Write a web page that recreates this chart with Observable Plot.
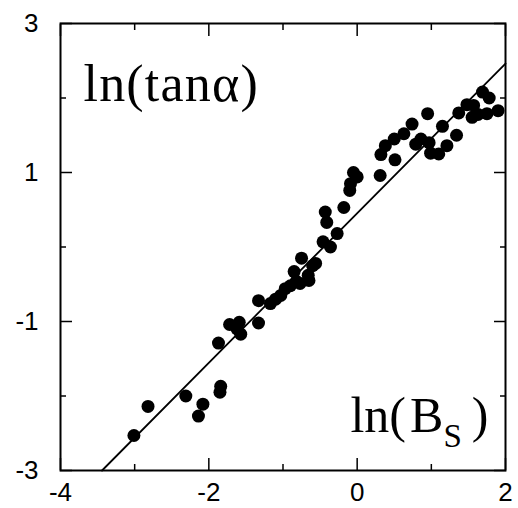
<!DOCTYPE html>
<html>
<head>
<meta charset="utf-8">
<script src="https://cdn.jsdelivr.net/npm/d3@7"></script>
<script src="https://cdn.jsdelivr.net/npm/@observablehq/plot@0.6"></script>
<style>
  html, body { margin: 0; padding: 0; background: white; }
</style>
</head>
<body>
<div id="chart"></div>
<script>
// Data
const xs = [-3.01, -2.82, -2.31, -2.08, -2.14, -1.84, -1.85, -1.87, -1.72, -1.59,
            -1.57, -1.62, -1.33, -1.33, -1.17, -1.10, -1.03, -0.97, -0.90, -0.82,
            -0.77, -0.85, -0.75, -0.66, -0.60, -0.56, -0.65, -0.46, -0.36, -0.27,
            -0.43, -0.41, -0.18, -0.10, -0.09, -0.05, 0.00, 0.31, 0.32, 0.38,
            0.51, 0.50, 0.63, 0.74, 0.95, 0.79, 0.86, 0.97, 0.99, 1.10,
            1.15, 1.21, 1.34, 1.37, 1.48, 1.57, 1.55, 1.69, 1.78, 1.75,
            1.90, 1.63];
const ys = [-2.53, -2.14, -2.00, -2.11, -2.27, -1.87, -1.95, -1.29, -1.04, -1.01,
            -1.17, -1.10, -1.02, -0.72, -0.76, -0.70, -0.65, -0.56, -0.52, -0.46,
            -0.49, -0.33, -0.15, -0.38, -0.25, -0.22, -0.45, 0.07, 0.00, 0.18,
            0.47, 0.33, 0.53, 0.76, 0.85, 1.00, 0.94, 0.96, 1.24, 1.36,
            1.17, 1.45, 1.52, 1.65, 1.79, 1.38, 1.45, 1.40, 1.26, 1.25,
            1.62, 1.36, 1.50, 1.80, 1.91, 1.90, 1.74, 2.08, 2.00, 1.79,
            1.83, 1.78];
// fitted straight line end points
const fitX = [-3.44, 2.0];
const fitY = [-3.0, 2.46];
// tick values
const majorX = [-4, -2, 0, 2];
const minorX = [-3, -1, 1];
const majorY = [-3, -1, 1, 3];
const minorY = [-2, 0, 2];
const topLabel = "ln(tanα)";
const bottomLabel = "ln(B_S)";

const points = xs.map((x, i) => ({x, y: ys[i]}));
const fit = fitX.map((x, i) => ({x, y: fitY[i]}));

const tickOnly = {fill: "none", label: null, strokeWidth: 1.5};
const fmt = d => String(d);

const chart = Plot.plot({
  width: 518,
  height: 508,
  marginLeft: 60,
  marginRight: 13,
  marginTop: 23,
  marginBottom: 38,
  style: {fontFamily: "'Liberation Sans', Arial, sans-serif", fontSize: "26px", background: "white", color: "black", overflow: "visible"},
  x: {domain: [-4, 2]},
  y: {domain: [-3, 3]},
  marks: [
    // inward ticks on all four sides
    Plot.axisX(majorX, {anchor: "bottom", tickSize: -12, ...tickOnly}),
    Plot.axisX(minorX, {anchor: "bottom", tickSize: -6, ...tickOnly}),
    Plot.axisX(majorX, {anchor: "top", tickSize: -12, ...tickOnly}),
    Plot.axisX(minorX, {anchor: "top", tickSize: -6, ...tickOnly}),
    Plot.axisY(majorY, {anchor: "left", tickSize: -12, ...tickOnly}),
    Plot.axisY(minorY, {anchor: "left", tickSize: -6, ...tickOnly}),
    Plot.axisY(majorY, {anchor: "right", tickSize: -12, ...tickOnly}),
    Plot.axisY(minorY, {anchor: "right", tickSize: -6, ...tickOnly}),
    // tick labels
    Plot.axisX(majorX, {anchor: "bottom", tickSize: 0, tickPadding: 12, tickFormat: fmt, label: null}),
    Plot.axisY(majorY, {anchor: "left", tickSize: 0, tickPadding: 22, tickFormat: fmt, label: null}),
    Plot.line(fit, {x: "x", y: "y", stroke: "black", strokeWidth: 1.8}),
    Plot.dot(points, {x: "x", y: "y", r: 6.5, fill: "black", stroke: "none"}),
    Plot.frame({stroke: "black", strokeWidth: 2}),
    Plot.text([topLabel], {frameAnchor: "top-left", textAnchor: "start", lineAnchor: "top",
      dx: 23, dy: 41, fontFamily: "'Liberation Serif', 'Times New Roman', serif", fontSize: 52, fill: "black",
      className: "tan-label"}),
    Plot.text([bottomLabel], {frameAnchor: "bottom-right", textAnchor: "end", lineAnchor: "top",
      dx: -17, dy: -74, fontFamily: "'Liberation Serif', 'Times New Roman', serif", fontSize: 50, fill: "black", className: "bs-label"})
  ]
});

d3.select(chart).select(".tan-label text").style("letter-spacing", "1.2px");

// subscript S in the bottom label
const t = d3.select(chart).select(".bs-label text");
if (!t.empty()) {
  t.text(null);
  t.append("tspan").text("ln(\u200AB");
  t.append("tspan").attr("font-size", 33).attr("dy", 15).text("S");
  t.append("tspan").attr("dy", -15).text("\u2009)");
}

document.getElementById("chart").appendChild(chart);
</script>
</body>
</html>
